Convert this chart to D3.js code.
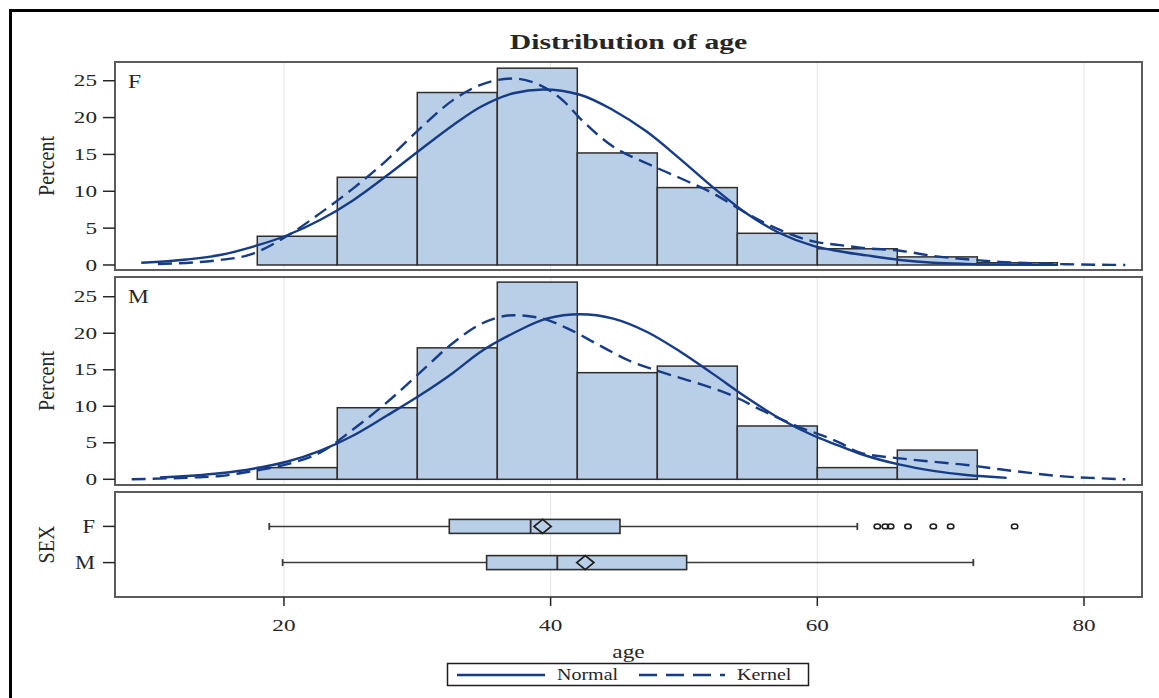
<!DOCTYPE html>
<html>
<head>
<meta charset="utf-8">
<script src="https://cdn.jsdelivr.net/npm/d3@7"></script>
<style>
  body { margin: 0; background: #fff; }
  text { font-family: "Liberation Serif", "Times New Roman", serif; fill: #262626; }
</style>
</head>
<body>
<svg id="chart" width="1159" height="698"></svg>
<script>
// ---- histogram bins (age) and bar heights (percent) ----
const binEdges = [18, 24, 30, 36, 42, 48, 54, 60, 66, 72, 78];
const pctF = [3.9, 11.9, 23.4, 26.7, 15.2, 10.5, 4.3, 2.2, 1.1, 0.3];
const pctM = [1.6, 9.8, 18.0, 27.0, 14.6, 15.5, 7.3, 1.6, 4.0];

// ---- fitted normal curves ----
const normF_age = [9.3, 12.7, 15.2, 17.7, 20.2, 22.7, 25.2, 27.7, 30.2, 32.7, 34.7, 37.2, 39.45, 42.2, 44.7, 47.2, 49.7, 52.2, 54.7, 57.2, 59.7, 61.2, 63.7, 66.2, 68.7, 71.2, 74.5, 78.0];
const normF_pct = [0.3, 0.75, 1.35, 2.5, 4.0, 6.1, 8.8, 12.1, 15.6, 19.0, 21.4, 23.3, 23.8, 23.1, 21.0, 18.1, 14.4, 10.5, 7.0, 4.3, 2.6, 2.0, 1.3, 0.68, 0.31, 0.15, 0.05, 0.01];
const normM_age = [10.7, 15.2, 17.7, 20.2, 22.7, 25.2, 27.7, 30.2, 32.7, 34.7, 37.2, 39.7, 42.2, 44.7, 47.2, 49.7, 52.2, 54.7, 57.2, 59.7, 61.2, 63.2, 66.2, 68.7, 71.2, 74.2];
const normM_pct = [0.25, 0.82, 1.45, 2.4, 3.9, 6.0, 8.7, 11.5, 14.6, 17.4, 20.0, 22.0, 22.6, 22.0, 20.2, 17.5, 14.4, 11.2, 8.3, 6.0, 4.9, 3.5, 2.0, 1.15, 0.58, 0.2];

// ---- kernel density curves ----
const kernF_age = [10.55, 15.2, 17.45, 20.2, 22.7, 25.2, 27.7, 30.2, 32.7, 34.7, 37.2, 39.2, 41.0, 42.2, 44.7, 47.2, 49.7, 52.2, 54.7, 57.2, 59.7, 61.7, 63.7, 66.2, 68.7, 71.2, 73.7, 76.2, 78.7, 83.1];
const kernF_pct = [0.14, 0.68, 1.4, 3.9, 7.0, 10.4, 14.2, 18.5, 22.4, 24.4, 25.3, 24.4, 22.2, 19.9, 16.05, 13.8, 11.8, 9.7, 7.0, 4.75, 3.2, 2.7, 2.27, 1.94, 1.22, 0.77, 0.41, 0.23, 0.1, 0.0];
const kernM_age = [8.58, 12.7, 15.2, 17.7, 20.2, 22.7, 25.2, 27.7, 30.2, 32.7, 34.7, 37.2, 39.2, 41.45, 43.5, 45.95, 48.45, 50.95, 53.45, 55.95, 58.45, 61.7, 63.2, 66.2, 68.7, 71.2, 73.7, 76.2, 78.7, 81.2, 83.1];
const kernM_pct = [0.0, 0.22, 0.45, 1.14, 2.05, 3.64, 6.85, 10.5, 14.6, 18.7, 21.2, 22.47, 22.1, 20.5, 18.5, 16.2, 14.6, 13.2, 11.6, 9.35, 7.3, 5.0, 3.64, 2.87, 2.4, 1.96, 1.37, 0.82, 0.36, 0.14, 0.0];

// ---- box plot statistics by SEX ----
const sexes = ["F", "M"];
const boxLow = [18.9, 19.9];
const boxQ1 = [32.4, 35.2];
const boxMedian = [38.5, 40.5];
const boxMean = [39.4, 42.6];
const boxQ3 = [45.2, 50.2];
const boxHigh = [63.0, 71.7];
const outliersF = [64.5, 65.1, 65.5, 66.8, 68.7, 70.0, 74.8];
const outliersM = [];

// ---- tick labels ----
const xTicks = [20, 40, 60, 80];
const yTicks = [0, 5, 10, 15, 20, 25];
const legendLabels = ["Normal", "Kernel"];

const C = {
  line: "#173c87",
  barFill: "#b9cfe8",
  barStroke: "#2e2e2e",
  frame: "#5c5c5c",
  grid: "#e4e4e4",
  ink: "#262626"
};

const svg = d3.select("#chart");

// outer frame
svg.append("rect").attr("x", 10.5).attr("y", 10.5).attr("width", 1300).attr("height", 900)
  .attr("fill", "none").attr("stroke", "#000").attr("stroke-width", 3);

const plotL = 115, plotR = 1142;
const x = d3.scaleLinear().domain([7.33, 84.35]).range([plotL, plotR]);

const panels = [
  { key: "F", top: 62, bottom: 270, dom: [-0.68, 27.54], pct: pctF, nA: normF_age, nP: normF_pct, kA: kernF_age, kP: kernF_pct },
  { key: "M", top: 277, bottom: 485, dom: [-0.78, 27.7], pct: pctM, nA: normM_age, nP: normM_pct, kA: kernM_age, kP: kernM_pct }
];

// stretched text helper: draws real text widened horizontally
function label(g, str, px, py, opts) {
  const o = Object.assign({ size: 16, sx: 1.3, anchor: "middle", weight: "normal", rotate: 0, base: "auto" }, opts || {});
  const t = g.append("text")
    .attr("transform", `translate(${px},${py}) scale(${o.sx},1)` + (o.rotate ? ` rotate(${o.rotate})` : ""))
    .attr("text-anchor", o.anchor)
    .attr("font-size", o.size)
    .attr("font-weight", o.weight)
    .text(str);
  if (o.base !== "auto") t.attr("dominant-baseline", o.base);
  return t;
}

// title
label(svg, "Distribution of age", (plotL + plotR) / 2, 49, { size: 22, sx: 1.35, weight: "bold" });

panels.forEach(p => {
  const y = d3.scaleLinear().domain(p.dom).range([p.bottom, p.top]);
  const g = svg.append("g");

  // vertical grid
  g.selectAll("line.grid").data(xTicks).join("line")
    .attr("x1", d => x(d)).attr("x2", d => x(d))
    .attr("y1", p.top).attr("y2", p.bottom)
    .attr("stroke", C.grid).attr("stroke-width", 1);

  // histogram bars
  const bins = p.pct.map((v, i) => ({ x0: binEdges[i], x1: binEdges[i + 1], v }));
  g.selectAll("rect.bar").data(bins).join("rect")
    .attr("x", d => x(d.x0)).attr("width", d => x(d.x1) - x(d.x0))
    .attr("y", d => y(d.v)).attr("height", d => y(0) - y(d.v))
    .attr("fill", C.barFill).attr("stroke", C.barStroke).attr("stroke-width", 1.5);

  const line = d3.line().x(d => x(d[0])).y(d => y(d[1])).curve(d3.curveMonotoneX);

  // normal curve
  g.append("path").datum(p.nA.map((a, i) => [a, p.nP[i]]))
    .attr("d", line).attr("fill", "none").attr("stroke", C.line).attr("stroke-width", 2.4);

  // kernel curve
  g.append("path").datum(p.kA.map((a, i) => [a, p.kP[i]]))
    .attr("d", line).attr("fill", "none").attr("stroke", C.line).attr("stroke-width", 2.4)
    .attr("stroke-dasharray", "14,7");

  // frame
  g.append("rect").attr("x", plotL).attr("y", p.top).attr("width", plotR - plotL).attr("height", p.bottom - p.top)
    .attr("fill", "none").attr("stroke", C.frame).attr("stroke-width", 2);

  // y axis ticks + labels
  yTicks.forEach(t => {
    g.append("line").attr("x1", plotL - 12).attr("x2", plotL).attr("y1", y(t)).attr("y2", y(t))
      .attr("stroke", C.ink).attr("stroke-width", 1.5);
    label(g, String(t), 97, y(t), { size: 16, sx: 1.45, anchor: "end", base: "central" });
  });

  label(g, "Percent", 46, (p.top + p.bottom) / 2, { size: 20, sx: 1.2, rotate: -90, base: "central" });
  label(g, p.key, 128, p.top + 26, { size: 18, sx: 1.3, anchor: "start" });
});

// ---- box plot panel ----
const bTop = 492, bBot = 597;
const yb = d3.scalePoint().domain(sexes).range([bTop, bBot]).padding(0.95);
const gb = svg.append("g");

gb.selectAll("line.grid").data(xTicks).join("line")
  .attr("x1", d => x(d)).attr("x2", d => x(d))
  .attr("y1", bTop).attr("y2", bBot)
  .attr("stroke", C.grid).attr("stroke-width", 1);

const boxH = 14;
sexes.forEach((s, i) => {
  const cy = yb(s);
  // whiskers
  gb.append("line").attr("x1", x(boxLow[i])).attr("x2", x(boxQ1[i])).attr("y1", cy).attr("y2", cy)
    .attr("stroke", "#3a3a3a").attr("stroke-width", 1.5);
  gb.append("line").attr("x1", x(boxQ3[i])).attr("x2", x(boxHigh[i])).attr("y1", cy).attr("y2", cy)
    .attr("stroke", "#3a3a3a").attr("stroke-width", 1.5);
  [boxLow[i], boxHigh[i]].forEach(v => {
    gb.append("line").attr("x1", x(v)).attr("x2", x(v)).attr("y1", cy - 3.5).attr("y2", cy + 3.5)
      .attr("stroke", "#3a3a3a").attr("stroke-width", 1.8);
  });
  // box
  gb.append("rect").attr("x", x(boxQ1[i])).attr("width", x(boxQ3[i]) - x(boxQ1[i]))
    .attr("y", cy - boxH / 2).attr("height", boxH)
    .attr("fill", C.barFill).attr("stroke", C.barStroke).attr("stroke-width", 1.6);
  // median
  gb.append("line").attr("x1", x(boxMedian[i])).attr("x2", x(boxMedian[i]))
    .attr("y1", cy - boxH / 2).attr("y2", cy + boxH / 2)
    .attr("stroke", C.barStroke).attr("stroke-width", 1.8);
  // mean diamond
  const mx = x(boxMean[i]);
  gb.append("path")
    .attr("d", `M${mx - 8.5},${cy} L${mx},${cy - 7} L${mx + 8.5},${cy} L${mx},${cy + 7} Z`)
    .attr("fill", "none").attr("stroke", "#1e1e1e").attr("stroke-width", 1.8);
});

const outl = [outliersF, outliersM];
sexes.forEach((s, i) => {
  gb.selectAll(null).data(outl[i]).join("ellipse")
    .attr("cx", d => x(d)).attr("cy", yb(s)).attr("rx", 3.2).attr("ry", 2.4)
    .attr("fill", "none").attr("stroke", "#1e1e1e").attr("stroke-width", 1.6);
});

gb.append("rect").attr("x", plotL).attr("y", bTop).attr("width", plotR - plotL).attr("height", bBot - bTop)
  .attr("fill", "none").attr("stroke", C.frame).attr("stroke-width", 2);

sexes.forEach(s => {
  gb.append("line").attr("x1", plotL - 12).attr("x2", plotL).attr("y1", yb(s)).attr("y2", yb(s))
    .attr("stroke", C.ink).attr("stroke-width", 1.5);
  label(gb, s, 95, yb(s), { size: 18, sx: 1.25, anchor: "end", base: "central" });
});
label(gb, "SEX", 46, (bTop + bBot) / 2, { size: 20, sx: 1.2, rotate: -90, base: "central" });

// x axis
xTicks.forEach(t => {
  gb.append("line").attr("x1", x(t)).attr("x2", x(t)).attr("y1", bBot).attr("y2", bBot + 9)
    .attr("stroke", C.ink).attr("stroke-width", 1.5);
  label(gb, String(t), x(t), 631, { size: 16, sx: 1.45 });
});
label(svg, "age", (plotL + plotR) / 2, 658, { size: 18, sx: 1.3 });

// ---- legend ----
const lg = svg.append("g");
lg.append("rect").attr("x", 447.5).attr("y", 663.5).attr("width", 361).attr("height", 22)
  .attr("fill", "#fff").attr("stroke", "#1e1e1e").attr("stroke-width", 1.5);
lg.append("line").attr("x1", 457).attr("x2", 545).attr("y1", 675).attr("y2", 675)
  .attr("stroke", C.line).attr("stroke-width", 2.4);
label(lg, legendLabels[0], 557, 680, { size: 16, sx: 1.25, anchor: "start" });
lg.append("line").attr("x1", 639).attr("x2", 725).attr("y1", 675).attr("y2", 675)
  .attr("stroke", C.line).attr("stroke-width", 2.4).attr("stroke-dasharray", "18,9");
label(lg, legendLabels[1], 737, 680, { size: 16, sx: 1.25, anchor: "start" });
</script>
</body>
</html>
